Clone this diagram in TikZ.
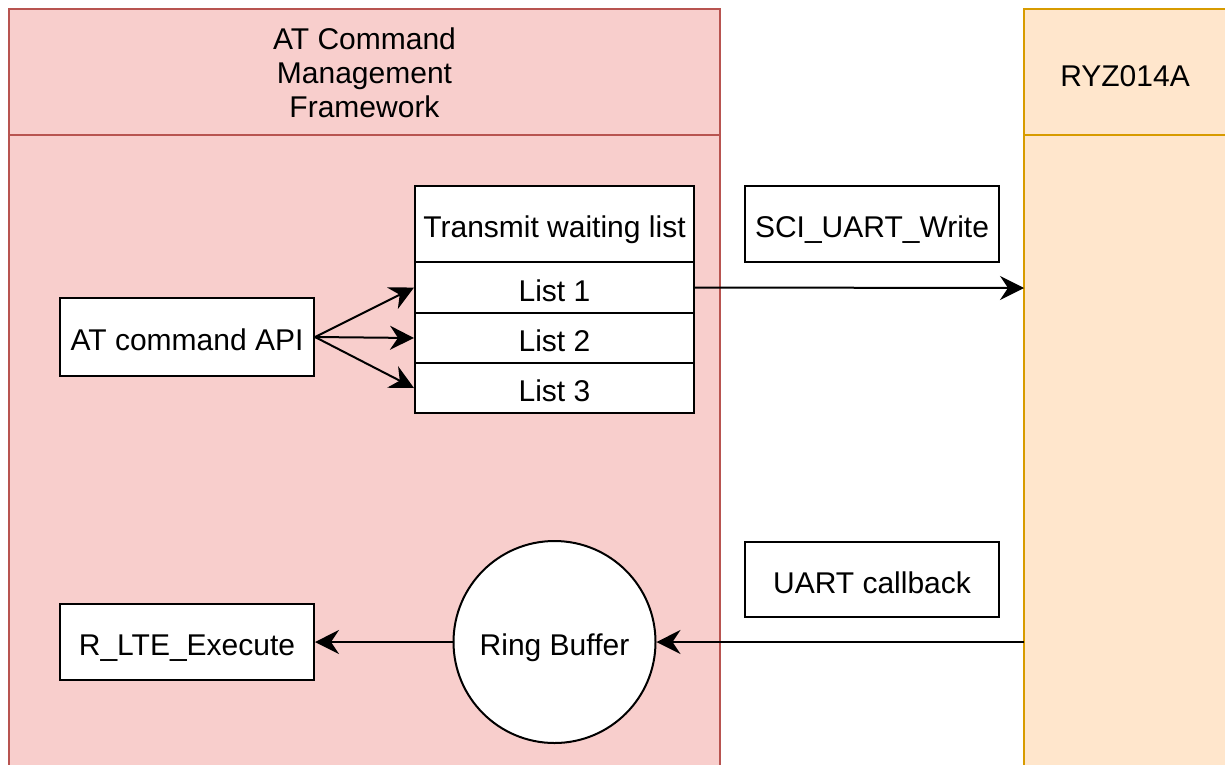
\documentclass[tikz,border=0pt]{standalone}
\usepackage{fontspec}
\setmainfont{Liberation Sans}
\usetikzlibrary{arrows.meta}
\definecolor{pinkfill}{HTML}{F8CECC}
\definecolor{pinkline}{HTML}{B85450}
\definecolor{orfill}{HTML}{FFE6CC}
\definecolor{orline}{HTML}{D79B00}
\tikzset{
  box/.style={draw=black, fill=white, line width=2pt, inner sep=0pt, align=center,
    text height=33pt, text depth=6pt, font=\fontsize{30}{34}\selectfont},
  conn/.style={line width=2pt, -{Stealth[length=24pt,width=24pt,inset=8pt]}},
  lbl/.style={inner sep=0pt, align=center, font=\fontsize{30}{34}\selectfont}
}
\begin{document}
\begin{tikzpicture}[x=1pt,y=-1pt]
\useasboundingbox (0,0) rectangle (1225,764);
\clip (0,0) rectangle (1225,764);
% containers
\draw[fill=pinkfill, draw=pinkline, line width=2pt] (9,9) rectangle (720,790);
\draw[draw=pinkline, line width=2pt] (9,135) -- (720,135);
\node[lbl] (hdrL) at (364.5,73) {AT Command\\Management\\Framework};
\draw[fill=orfill, draw=orline, line width=2pt] (1024,9) rectangle (1240,790);
\draw[draw=orline, line width=2pt] (1024,135) -- (1240,135);
\node[lbl] (hdrR) at (1125,76) {RYZ014A};
% transmit list
\node[box, minimum width=279pt, minimum height=76pt] (tw) at (554.5,224) {Transmit waiting list};
\node[box, minimum width=279pt, minimum height=51pt] (l1) at (554.5,287.5) {List 1};
\node[box, minimum width=279pt, minimum height=50pt] (l2) at (554.5,338) {List 2};
\node[box, minimum width=279pt, minimum height=50pt] (l3) at (554.5,388) {List 3};
% other boxes
\node[box, minimum width=254pt, minimum height=78pt] (api) at (187,337) {AT command API};
\node[box, minimum width=254pt, minimum height=76pt] (sci) at (872,224) {SCI\_UART\_Write};
\node[box, minimum width=254pt, minimum height=75pt] (uart) at (872,579.5) {UART callback};
\node[box, minimum width=254pt, minimum height=76pt] (rlte) at (187,642) {R\_LTE\_Execute};
\node[box, circle, minimum size=202pt] (ring) at (554.5,642) {Ring Buffer};
% coordinates on the RYZ014A edge
\coordinate (tx) at (1024,288);
\coordinate (rx) at (1024,642);
% connectors
\draw[conn] (api.east) -- (l1.west);
\draw[conn] (api.east) -- (l2.west);
\draw[conn] (api.east) -- (l3.west);
\draw[conn] (l1.east) -- (tx);
\draw[conn] (rx) -- (ring.east);
\draw[conn] (ring.west) -- (rlte.east);
\end{tikzpicture}
\end{document}
